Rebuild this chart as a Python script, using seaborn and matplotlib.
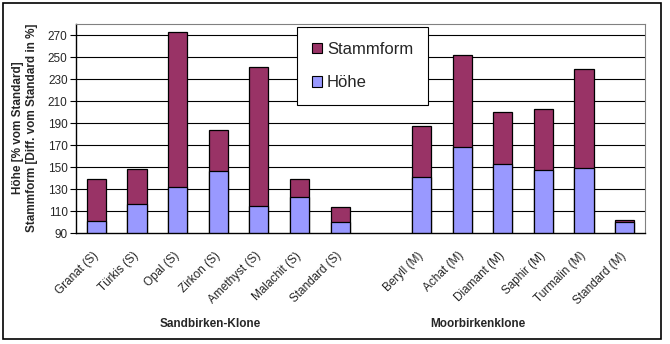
import numpy as np
import pandas as pd
import matplotlib
matplotlib.use("Agg")
import matplotlib.pyplot as plt
from matplotlib.patches import Patch, Rectangle
import seaborn as sns

categories = ["Granat (S)", "Türkis (S)", "Opal (S)", "Zirkon (S)", "Amethyst (S)",
              "Malachit (S)", "Standard (S)", "",
              "Beryll (M)", "Achat (M)", "Diamant (M)", "Saphir (M)", "Turmalin (M)",
              "Standard (M)"]
hoehe = [101, 116, 132, 146, 115, 123, 100, np.nan, 141, 168, 153, 147, 149, 100]
stammform = [38, 32, 141, 38, 126, 16, 14, np.nan, 46, 84, 47, 56, 90, 2]
yticks = list(range(90, 271, 20))
group_labels = ["Sandbirken-Klone", "Moorbirkenklone"]

sns.set_theme(style="white")
plt.rcParams["font.family"] = ["Liberation Sans", "DejaVu Sans"]

df = pd.DataFrame({"Klon": categories, "Höhe": hoehe, "Stammform": stammform})
df["Gesamt"] = df["Höhe"] + df["Stammform"]

fig = plt.figure(figsize=(6.7, 3.44), dpi=100)
ax = fig.add_axes([76 / 670, 1 - 233 / 344, (645 - 76) / 670, (233 - 24) / 344])

purple = "#993366"
blue = "#9999FF"
sns.barplot(data=df, x="Klon", y="Gesamt", order=categories, color=purple,
            saturation=1, width=0.47, edgecolor="black", linewidth=0.9, ax=ax,
            errorbar=None)
sns.barplot(data=df, x="Klon", y="Höhe", order=categories, color=blue,
            saturation=1, width=0.47, edgecolor="black", linewidth=0.9, ax=ax,
            errorbar=None)

n = len(categories)
ax.set_xlim(-0.5, n - 0.5)
ax.set_ylim(90, 280)
ax.set_yticks(yticks)
ax.set_yticklabels([str(v) for v in yticks], fontsize=8.5)
for v in yticks[1:]:
    ax.axhline(v, color="black", lw=0.8, zorder=0)

ax.set_xticks(range(n))
ax.set_xticklabels(categories, rotation=45, ha="right", va="center",
                   rotation_mode="anchor", fontsize=8.5)
ax.set_xticks(np.arange(-0.5, n, 1), minor=True)
ax.tick_params(axis="x", which="major", length=0, pad=15)
ax.tick_params(axis="x", which="minor", length=4, width=0.8, color="black", direction="out")
ax.tick_params(axis="y", which="major", length=4, width=0.8, color="black",
               direction="out", pad=2, left=True)
ax.set_xlabel("")
ax.set_ylabel("")

for s in ["left", "bottom"]:
    ax.spines[s].set_color("black")
    ax.spines[s].set_linewidth(1.0)
for s in ["top", "right"]:
    ax.spines[s].set_color("#808080")
    ax.spines[s].set_linewidth(0.8)

handles = [Patch(facecolor=purple, edgecolor="black", lw=0.8, label="Stammform"),
           Patch(facecolor=blue, edgecolor="black", lw=0.8, label="Höhe")]
leg = fig.legend(handles=handles, loc="upper left",
                 bbox_to_anchor=(297 / 670, 1 - 27 / 344), borderaxespad=0,
                 fontsize=12, frameon=True, fancybox=False, edgecolor="black",
                 framealpha=1, handlelength=0.6, handleheight=0.6,
                 handletextpad=0.3, labelspacing=1.1, borderpad=0.9)
leg.get_frame().set_linewidth(0.8)

fig.text(18 / 670, 1 - 128 / 344, "Höhe [% vom Standard]", rotation=90,
         ha="center", va="center", fontsize=8.5, fontweight="bold")
fig.text(32 / 670, 1 - 128 / 344, "Stammform [Diff. vom Standard in %]", rotation=90,
         ha="center", va="center", fontsize=8.5, fontweight="bold")

fig.text(210 / 670, 1 - 324 / 344, group_labels[0], ha="center", va="center",
         fontsize=8.5, fontweight="bold")
fig.text(478 / 670, 1 - 324 / 344, group_labels[1], ha="center", va="center",
         fontsize=8.5, fontweight="bold")

fig.patches.append(Rectangle((3 / 670, 1 - 339 / 344), (661 - 3) / 670, (339 - 3) / 344,
                             transform=fig.transFigure, fill=False,
                             edgecolor="black", lw=1.2))

fig.savefig("out.png", dpi=100, facecolor="white")
